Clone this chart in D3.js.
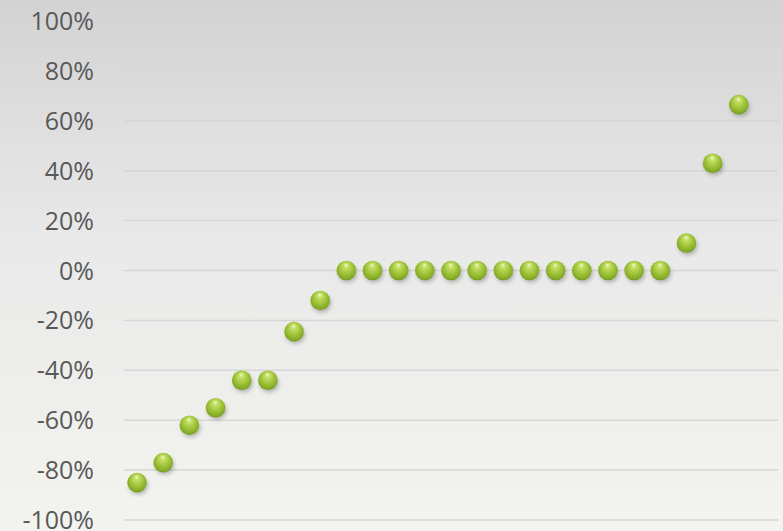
<!DOCTYPE html>
<html>
<head>
<meta charset="utf-8">
<script src="https://cdn.jsdelivr.net/npm/d3@7"></script>
<style>
  html, body { margin: 0; padding: 0; background: #eeeeee; }
  svg { display: block; }
</style>
</head>
<body>
<svg id="chart" width="783" height="531"></svg>
<script>
// Series: one value per position, as a share (-1..1)
const positions = d3.range(1, 25);
const values = [-0.85, -0.77, -0.62, -0.55, -0.44, -0.44, -0.245, -0.12,
                0, 0, 0, 0, 0, 0, 0, 0, 0, 0, 0, 0, 0,
                0.11, 0.43, 0.665];
const yTicks = [-1, -0.8, -0.6, -0.4, -0.2, 0, 0.2, 0.4, 0.6, 0.8, 1];
const slotCount = 25;

const W = 783, H = 531;
const plot = { left: 124, right: 778, top: 21, bottom: 520 };

const svg = d3.select("#chart");
const defs = svg.append("defs");

// Backdrop gradient: grey at the top fading to a warm off-white
const bg = defs.append("linearGradient").attr("id", "bg")
  .attr("x1", 0).attr("y1", 0).attr("x2", 0).attr("y2", 1);
bg.append("stop").attr("offset", 0).attr("stop-color", "#d3d3d3");
bg.append("stop").attr("offset", 0.45).attr("stop-color", "#e9e9e9");
bg.append("stop").attr("offset", 1).attr("stop-color", "#f3f3ef");

// Glossy green sphere
const ball = defs.append("radialGradient").attr("id", "ball")
  .attr("cx", "50%").attr("cy", "45%").attr("r", "58%")
  .attr("fx", "48%").attr("fy", "20%");
ball.append("stop").attr("offset", 0).attr("stop-color", "#f2f9cf");
ball.append("stop").attr("offset", 0.2).attr("stop-color", "#c6e06a");
ball.append("stop").attr("offset", 0.55).attr("stop-color", "#a2c63c");
ball.append("stop").attr("offset", 0.85).attr("stop-color", "#86ad28");
ball.append("stop").attr("offset", 1).attr("stop-color", "#6f931b");

const blur = defs.append("filter").attr("id", "shadow")
  .attr("x", "-50%").attr("y", "-50%").attr("width", "200%").attr("height", "200%");
blur.append("feGaussianBlur").attr("stdDeviation", 2);

svg.append("rect").attr("width", W).attr("height", H).attr("fill", "url(#bg)");

const x = d3.scaleLinear().domain([0.5, slotCount + 0.5]).range([plot.left, plot.right]);
const y = d3.scaleLinear().domain([-1, 1]).range([plot.bottom, plot.top]);

// Horizontal gridlines
svg.append("g")
  .selectAll("line")
  .data(yTicks)
  .join("line")
  .attr("x1", plot.left).attr("x2", plot.right)
  .attr("y1", d => y(d)).attr("y2", d => y(d))
  .attr("stroke", "#d6d6d6")
  .attr("stroke-width", 1.5);

// Value axis labels, plain hyphen for negatives
const pct = d => `${Math.round(d * 100)}%`;
const yAxis = d3.axisLeft(y)
  .tickValues(yTicks)
  .tickFormat(pct)
  .tickSize(0)
  .tickPadding(0);
const gy = svg.append("g")
  .attr("transform", `translate(94,0)`)
  .call(yAxis);
gy.select(".domain").remove();
gy.selectAll("text")
  .attr("fill", "#595959")
  .attr("font-family", "'Open Sans', sans-serif")
  .attr("font-size", "25px")
  .attr("dy", "0.34em");

const pts = positions.map((p, i) => ({ p, v: values[i] }));

// Soft drop shadows beneath the spheres
svg.append("g")
  .selectAll("ellipse")
  .data(pts)
  .join("ellipse")
  .attr("cx", d => x(d.p) + 1.5)
  .attr("cy", d => y(d.v) + 3)
  .attr("rx", 9.5).attr("ry", 9)
  .attr("fill", "#000")
  .attr("opacity", 0.25)
  .attr("filter", "url(#shadow)");

svg.append("g")
  .selectAll("circle")
  .data(pts)
  .join("circle")
  .attr("cx", d => x(d.p))
  .attr("cy", d => y(d.v))
  .attr("r", 9.8)
  .attr("fill", "url(#ball)");
</script>
</body>
</html>
